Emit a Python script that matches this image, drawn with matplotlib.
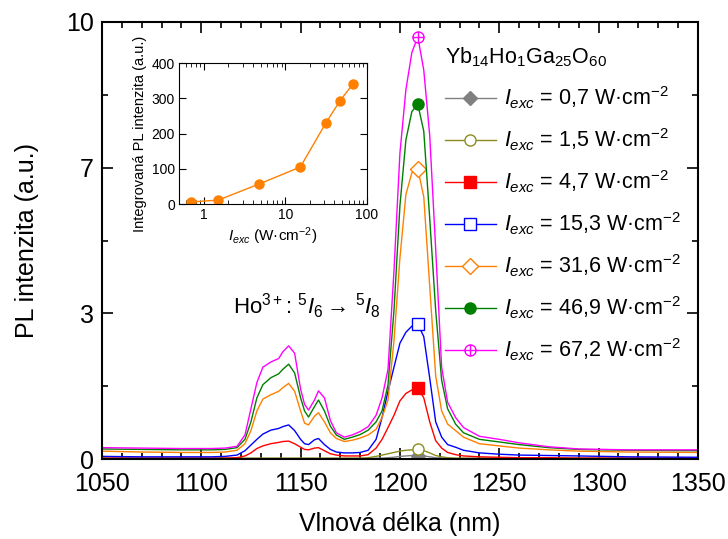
import matplotlib
matplotlib.use('Agg')
import matplotlib.pyplot as plt
import numpy as np
from matplotlib.lines import Line2D
from matplotlib.path import Path
from matplotlib.ticker import (AutoMinorLocator, MultipleLocator, FixedLocator,
                               FuncFormatter, NullFormatter)

plt.rcParams['font.family'] = ['Liberation Sans', 'DejaVu Sans']
plt.rcParams['mathtext.fontset'] = 'custom'
plt.rcParams['mathtext.rm'] = 'Liberation Sans'
plt.rcParams['mathtext.it'] = 'Liberation Sans:italic'
plt.rcParams['mathtext.bf'] = 'Liberation Sans:bold'

# wavelength grid (nm)
wl = [1050, 1070, 1090, 1105, 1112, 1118, 1122, 1125, 1128, 1131,
      1135, 1139, 1141, 1144, 1147, 1150, 1152, 1154, 1157, 1159,
      1162, 1165, 1168, 1172, 1176, 1180, 1184, 1188, 1191, 1194,
      1197, 1200, 1203, 1206, 1209, 1212, 1215, 1218, 1221, 1224,
      1228, 1232, 1240, 1250, 1260, 1275, 1290, 1315, 1350]

pl_07 = [0.01, 0.01, 0.01, 0.01, 0.01, 0.01, 0.01, 0.01, 0.01, 0.01,
         0.01, 0.01, 0.01, 0.01, 0.01, 0.01, 0.01, 0.01, 0.01, 0.01,
         0.01, 0.01, 0.01, 0.01, 0.01, 0.01, 0.01, 0.02, 0.02, 0.03,
         0.04, 0.06, 0.07, 0.08, 0.08, 0.07, 0.05, 0.03, 0.02, 0.01,
         0.01, 0.01, 0.01, 0.01, 0.01, 0.01, 0.01, 0.01, 0.01]

pl_15 = [0.02, 0.02, 0.02, 0.02, 0.02, 0.02, 0.02, 0.02, 0.02, 0.02,
         0.02, 0.02, 0.02, 0.02, 0.02, 0.02, 0.02, 0.02, 0.02, 0.02,
         0.02, 0.02, 0.02, 0.02, 0.02, 0.02, 0.03, 0.06, 0.09, 0.12,
         0.15, 0.18, 0.20, 0.21, 0.22, 0.19, 0.14, 0.08, 0.05, 0.03,
         0.02, 0.02, 0.02, 0.02, 0.02, 0.02, 0.02, 0.02, 0.02]

pl_47 = [0.02, 0.02, 0.02, 0.02, 0.02, 0.03, 0.07, 0.14, 0.24, 0.30,
         0.35, 0.38, 0.40, 0.41, 0.35, 0.27, 0.22, 0.21, 0.25, 0.26,
         0.19, 0.12, 0.09, 0.07, 0.07, 0.07, 0.10, 0.25, 0.45, 0.72,
         1.00, 1.33, 1.50, 1.58, 1.62, 1.40, 0.85, 0.42, 0.25, 0.15,
         0.10, 0.07, 0.05, 0.04, 0.03, 0.03, 0.02, 0.02, 0.02]

pl_153 = [0.06, 0.05, 0.05, 0.05, 0.06, 0.09, 0.19, 0.32, 0.45, 0.57,
          0.66, 0.70, 0.74, 0.78, 0.65, 0.45, 0.35, 0.33, 0.44, 0.47,
          0.33, 0.22, 0.16, 0.14, 0.14, 0.15, 0.20, 0.45, 0.95, 1.55,
          2.10, 2.65, 2.90, 3.04, 3.09, 2.80, 1.85, 0.85, 0.50, 0.33,
          0.27, 0.20, 0.14, 0.11, 0.09, 0.08, 0.07, 0.05, 0.04]

pl_316 = [0.18, 0.16, 0.15, 0.15, 0.16, 0.20, 0.35, 0.65, 1.10, 1.37,
          1.47, 1.55, 1.63, 1.73, 1.55, 1.10, 0.82, 0.78, 0.98, 1.06,
          0.85, 0.60, 0.47, 0.40, 0.43, 0.48, 0.55, 0.68, 0.95, 1.35,
          2.70, 4.60, 6.05, 6.55, 6.64, 6.00, 3.95, 1.90, 1.10, 0.80,
          0.65, 0.50, 0.35, 0.30, 0.25, 0.21, 0.18, 0.16, 0.15]

pl_469 = [0.23, 0.22, 0.21, 0.21, 0.22, 0.26, 0.45, 0.85, 1.40, 1.70,
          1.86, 1.95, 2.05, 2.17, 1.97, 1.40, 1.10, 0.96, 1.20, 1.35,
          1.10, 0.75, 0.55, 0.45, 0.50, 0.56, 0.66, 0.85, 1.10, 1.70,
          3.40, 5.80, 7.30, 7.95, 8.12, 7.50, 5.50, 3.40, 1.80, 1.15,
          0.80, 0.60, 0.45, 0.39, 0.33, 0.26, 0.22, 0.20, 0.19]

pl_672 = [0.26, 0.25, 0.24, 0.24, 0.25, 0.29, 0.55, 1.15, 1.75, 2.10,
          2.22, 2.30, 2.45, 2.59, 2.42, 1.60, 1.25, 1.12, 1.35, 1.56,
          1.40, 0.88, 0.60, 0.50, 0.55, 0.63, 0.74, 1.00, 1.40, 2.05,
          4.30, 7.00, 8.45, 9.30, 9.66, 8.90, 7.40, 4.80, 2.10, 1.30,
          0.95, 0.72, 0.52, 0.45, 0.37, 0.28, 0.23, 0.21, 0.21]

series = [pl_07, pl_15, pl_47, pl_153, pl_316, pl_469, pl_672]
labels = ['0,7', '1,5', '4,7', '15,3', '31,6', '46,9', '67,2']
colors = ['#808080', '#8c8c1e', '#ff0000', '#0000ff', '#ff8000', '#008000', '#ff00ff']

# inset: integrated PL vs excitation intensity
i_exc = [0.7, 1.5, 4.7, 15.3, 31.6, 46.9, 67.2]
pl_int = [6, 11, 56, 105, 231, 293, 340]

# circle with plus marker
oplus = Path.make_compound_path(
    Path.unit_circle(),
    Path([[-1, 0], [1, 0], [0, -1], [0, 1]],
         [Path.MOVETO, Path.LINETO, Path.MOVETO, Path.LINETO]))
markers = ['D', 'o', 's', 's', 'D', 'o', oplus]
mfcs = [colors[0], 'white', colors[2], 'white', 'white', colors[5], 'white']
msizes = [7, 8, 8, 8, 8, 8, 8]

fig = plt.figure(figsize=(7.28, 5.39), dpi=100)
ax = fig.add_axes([0.140, 0.1484, 0.8187, 0.8108])

peak = wl.index(1209)
handles = []
for y, c, m, fc, ms, lab in zip(series, colors, markers, mfcs, msizes, labels):
    ax.plot(wl, y, color=c, lw=1.0)
    ax.plot(wl[peak], y[peak], ls='none', marker=m, ms=ms, mfc=fc, mec=c, mew=1.0)
    handles.append(Line2D([], [], color=c, lw=1.0, marker=m, ms=ms, mfc=fc, mec=c, mew=1.0,
                          label=r'$I_{exc}$ = ' + lab + r' W·cm$^{-2}$'))

ax.set_xlim(1050, 1350)
ax.set_ylim(0, 10)
ax.xaxis.set_major_locator(MultipleLocator(50))
ax.xaxis.set_minor_locator(MultipleLocator(10))
ax.yaxis.set_major_locator(FixedLocator(np.linspace(0, 10, 4)))
ax.yaxis.set_minor_locator(AutoMinorLocator(2))
ax.yaxis.set_major_formatter(FuncFormatter(lambda v, p: '%.0f' % v))
ax.tick_params(which='both', direction='in', top=True, right=True, width=1.2)
ax.tick_params(which='major', length=8, labelsize=18)
ax.tick_params(axis='x', pad=9)
ax.tick_params(axis='y', pad=6)
ax.tick_params(which='minor', length=4)
for s in ax.spines.values():
    s.set_linewidth(1.5)
ax.set_xlabel('Vlnová délka (nm)', fontsize=18, labelpad=12)
ax.set_ylabel('PL intenzita (a.u.)', fontsize=18, labelpad=19)

ax.text(1116, 3.5, r'Ho$^{3+}$: $^5I_6 \rightarrow\, ^5I_8$', fontsize=16, va='center')

leg = ax.legend(handles=handles, loc='upper left', bbox_to_anchor=(0.575, 0.947),
                frameon=False, fontsize=15.5, title='Yb$_{14}$Ho$_{1}$Ga$_{25}$O$_{60}$',
                title_fontsize=15.5, alignment='left', numpoints=1,
                handlelength=2.4, handletextpad=0.35, labelspacing=0.72,
                borderpad=0, borderaxespad=0)

# inset
ax2 = fig.add_axes([0.246, 0.6215, 0.258, 0.2616])
ax2.plot(i_exc, pl_int, color='#ff8000', lw=1.0, marker='o', ms=6.5)
ax2.set_xscale('log')
ax2.set_xlim(0.5, 100)
ax2.set_ylim(0, 400)
ax2.xaxis.set_major_formatter(FuncFormatter(lambda v, p: '%g' % v))
ax2.xaxis.set_minor_formatter(NullFormatter())
ax2.yaxis.set_major_locator(MultipleLocator(100))
ax2.tick_params(which='both', direction='in', top=True, right=True, labelsize=10, pad=3)
ax2.tick_params(which='major', length=5)
ax2.tick_params(which='minor', length=3)
ax2.set_xlabel(r'$I_{exc}$ (W·cm$^{-2}$)', fontsize=11, labelpad=2)
ax2.set_ylabel('Integrovaná PL intenzita (a.u.)', fontsize=10.5, labelpad=3)

fig.savefig('out.png', dpi=100)
